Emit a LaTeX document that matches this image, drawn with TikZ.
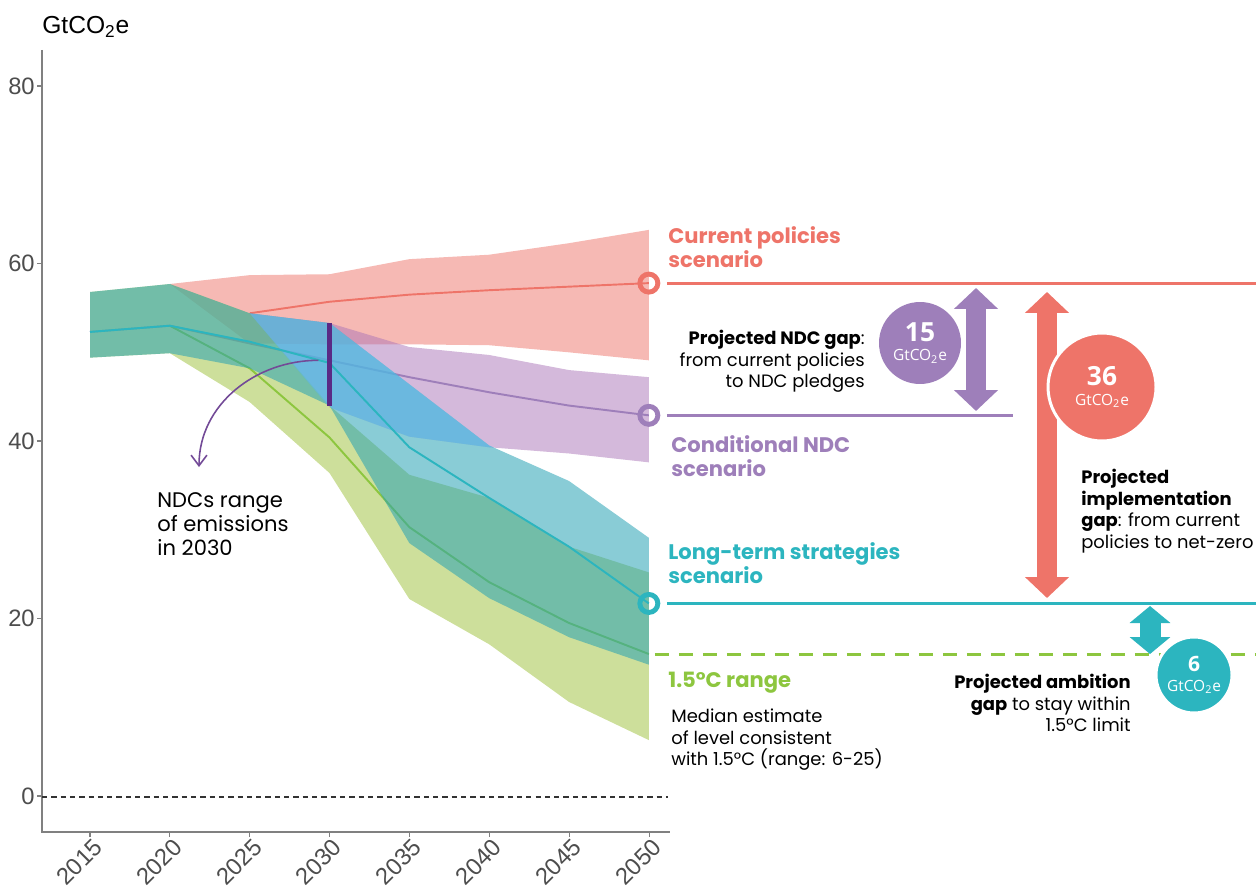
\documentclass[tikz,border=0pt]{standalone}
\usepackage{fontspec}
\setmainfont{Poppins}
\newfontfamily\axisfont{Liberation Sans}
\newfontfamily\circfont{Open Sans}
\usepackage{tikz}
\usetikzlibrary{arrows.meta,positioning}
\definecolor{cpred}{HTML}{EE7469}
\definecolor{ndcpurple}{HTML}{9E7FBA}
\definecolor{ndcbandc}{HTML}{A973B7}
\definecolor{ltscyan}{HTML}{2CB5BF}
\definecolor{ltsbandc}{HTML}{28A2B4}
\definecolor{overlapc}{HTML}{63C4FA}
\definecolor{pcgreen}{HTML}{8DC63F}
\definecolor{pcbandc}{HTML}{ACCA58}
\definecolor{ndcbarc}{HTML}{5A2A85}
\definecolor{axisgray}{HTML}{4D4D4D}
\newcommand{\gtco}{GtCO\textsubscript{2}e}
% ranges (years after 2015, GtCO2e)
\newcommand{\ndcrangepath}{(10,54.4) -- (15,53.3) -- (20,50.6) -- (25,49.7) -- (30,48.0) -- (35,47.2)
  -- (35,37.6) -- (30,38.6) -- (25,39.3) -- (20,40.5) -- (15,43.8) -- cycle}
\newcommand{\ltsrangepath}{(0,56.8) -- (5,57.7) -- (10,54.4) -- (15,53.3) -- (20,46.4) -- (25,39.5) -- (30,35.5) -- (35,29.1)
  -- (35,14.8) -- (30,17.9) -- (25,22.3) -- (20,28.5) -- (15,44.0) -- (10,48.2) -- (5,49.9) -- (0,49.4) -- cycle}
\tikzset{every node/.append style={inner sep=0pt}}

\begin{document}
\begin{tikzpicture}[x=0.02cm, y=-0.02cm,
  axisline/.style={draw=black!50, line width=0.6pt},
  zeroline/.style={draw=black!80, line width=0.8pt, dash pattern=on 3pt off 2.3pt},
  ticklabel/.style={font=\axisfont\fontsize{13.5}{14}\selectfont, text=axisgray},
  cpband/.style={fill=cpred, fill opacity=.5},
  ndcband/.style={fill=ndcbandc, fill opacity=.5},
  pcband/.style={fill=pcbandc, fill opacity=.6},
  ltsband/.style={fill=ltsbandc, fill opacity=.55},
  median/.style={line width=1.1pt, line join=round},
  ring/.style={line width=2.8pt},
  scenline/.style={line width=1.7pt},
  scentitle/.style={font=\bfseries\fontsize{12}{13.6}\selectfont, align=left, anchor=north west},
  gapnote/.style={font=\fontsize{10.2}{12.2}\selectfont},
  gaparrow/.style={line width=0.4cm, {Triangle[length=0.42cm,width=0.86cm]}-{Triangle[length=0.42cm,width=0.86cm]}},
  ambarrow/.style={line width=0.42cm, {Triangle[length=0.34cm,width=0.8cm]}-{Triangle[length=0.34cm,width=0.8cm]}},
  gapcircle/.style={circle, text=white, font=\circfont\fontsize{8.8}{11}\selectfont, align=center},
  ndcpointer/.style={draw=ndcbarc!85, line width=0.9pt, -{Straight Barb[length=6pt,width=9pt]}},
]
\useasboundingbox (0,0) rectangle (1256,885);

% axes
\draw[axisline] (42,50) -- (42,832) -- (670,832);
\draw[zeroline] (42,797) -- (668,797);
\foreach \v in {0,20,...,80} {
  \draw[axisline] (37,{796-8.875*\v}) -- (42,{796-8.875*\v});
  \node[ticklabel, anchor=east] (ylab\v) at (35,{796-8.875*\v}) {\v};
}
\foreach \yr [count=\i from 0] in {2015,2020,...,2050} {
  \draw[axisline] ({90+79.86*\i},832) -- ({90+79.86*\i},837);
  \node[ticklabel, rotate=45, anchor=north east] (xlab\yr) at ({92+79.86*\i},837) {\yr};
}
\node[font=\axisfont\fontsize{14}{16}\selectfont, anchor=base west] (ytitle) at (42,34) {\gtco};

% scenario ranges, in years after 2015 and GtCO2e
\begin{scope}[shift={(90,796)}, x=0.3194cm, y=0.1775cm]
\fill[cpband] (5,57.7) -- (10,58.7) -- (15,58.8) -- (20,60.5) -- (25,61.0) -- (30,62.3) -- (35,63.8)
  -- (35,49.1) -- (30,50.0) -- (25,50.8) -- (20,50.9) -- (15,50.9) -- (10,51.0) -- cycle;
\draw[median, cpred] (10,54.4) -- (15,55.7) -- (20,56.5) -- (25,57.0) -- (30,57.4) -- (35,57.8) coordinate (cpend);

\fill[ndcband] \ndcrangepath;
\draw[median, ndcpurple] (0,52.3) -- (5,53.0) -- (10,51.0) -- (15,49.1) -- (20,47.2) -- (25,45.5) -- (30,44.0) -- (35,42.9) coordinate (ndcend);

\fill[pcband] (0,56.8) -- (5,57.7) -- (10,54.4) -- (15,44.0) -- (20,36.2) -- (25,33.6) -- (30,28.1) -- (35,25.2)
  -- (35,6.3) -- (30,10.6) -- (25,17.1) -- (20,22.2) -- (15,36.4) -- (10,44.4) -- (5,49.9) -- (0,49.4) -- cycle;
\draw[median, pcgreen] (5,53.0) -- (10,48.2) -- (15,40.4) -- (20,30.3) -- (25,24.1) -- (30,19.5) -- (35,16.0) coordinate (pcend);

\fill[ltsband] \ltsrangepath;
\begin{scope}
  \clip \ndcrangepath;
  \fill[overlapc, fill opacity=.5] \ltsrangepath;
\end{scope}
\draw[median, ltscyan] (0,52.3) -- (5,53.0) -- (10,51.2) -- (15,48.8) -- (20,39.3) -- (25,33.6) -- (30,28.1) -- (35,21.7) coordinate (ltsend);

% NDC range in 2030
\draw[ndcbarc, line width=2.8pt] (15,44.0) coordinate (ndclow) -- (15,53.3) coordinate (ndchigh);
\coordinate (ndcstart) at (14.3,49.1);
\end{scope}

\coordinate (ndcarrowend) at (199,467);
\draw[ndcpointer] (ndcstart) to[out=180, in=90] (ndcarrowend);
\node[anchor=north west, align=left, font=\fontsize{12}{13.6}\selectfont] (ndcrange) at (157,492) {NDCs range\\of emissions\\in 2030};

% scenario levels in 2050
\coordinate (rightedge) at (1256,0);
\coordinate (ndcstop) at (1013,0);
\draw[scenline, cpred] ([xshift=0.36cm]cpend) -- (cpend -| rightedge);
\draw[scenline, ndcpurple] ([xshift=0.36cm]ndcend) -- (ndcend -| ndcstop);
\draw[scenline, ltscyan] ([xshift=0.36cm]ltsend) -- (ltsend -| rightedge);
\draw[scenline, pcgreen, dash pattern=on 0.28cm off 0.2cm] ([xshift=0.12cm]pcend) -- (pcend -| rightedge);
\draw[ring, cpred] (cpend) circle[radius=0.18cm];
\draw[ring, ndcpurple] (ndcend) circle[radius=0.18cm];
\draw[ring, ltscyan] (ltsend) circle[radius=0.18cm];

\node[scentitle, text=cpred] (cptext) at (668,226) {Current policies\\scenario};
\node[scentitle, text=ndcpurple] (ndctext) at (671,435) {Conditional NDC\\scenario};
\node[scentitle, text=ltscyan] (ltstext) at (668,542) {Long-term strategies\\scenario};
\node[scentitle, text=pcgreen] (pctext) at (668,672) {1.5°C range};
\node[gapnote, anchor=north west, align=left] (pcnote) at (671,709) {Median estimate\\of level consistent\\with 1.5°C (range: 6-25)};

% gaps
\coordinate (ndcgaptop) at (976,288);
\coordinate (ndcgapbot) at (976,411);
\coordinate (impltop) at (1047,292);
\coordinate (implbot) at (1047,598);
\coordinate (ambtop) at (1150,606);
\coordinate (ambbot) at (1150,654);
\draw[gaparrow, ndcpurple] (ndcgaptop) -- (ndcgapbot);
\draw[gaparrow, cpred] (impltop) -- (implbot);
\draw[ambarrow, ltscyan] (ambtop) -- (ambbot);

\node[gapcircle, fill=ndcpurple, minimum size=1.64cm] (ndcgapc) at (920,343) {{\bfseries\fontsize{15}{14}\selectfont 15}\\\gtco};
\node[gapcircle, fill=cpred, draw=white, line width=1.7pt, minimum size=2.16cm] (implc) at (1102,387) {{\bfseries\fontsize{15}{14}\selectfont 36}\\\gtco};
\node[gapcircle, fill=ltscyan, draw=white, line width=1.7pt, minimum size=1.52cm] (ambc) at (1194,675) {{\bfseries\fontsize{12}{12}\selectfont 6}\\\gtco};

\node[gapnote, anchor=north east, align=right] (ndcgapnote) at (865,330) {\textbf{Projected NDC gap}:\\from current policies\\to NDC pledges};
\node[gapnote, anchor=north west, align=left] (implnote) at (1081,469) {\textbf{Projected}\\\textbf{implementation}\\\textbf{gap}: from current\\policies to net-zero};
\node[gapnote, anchor=north east, align=right] (ambnote) at (1131,674) {\textbf{Projected ambition}\\\textbf{gap} to stay within\\1.5°C limit};
\end{tikzpicture}
\end{document}
